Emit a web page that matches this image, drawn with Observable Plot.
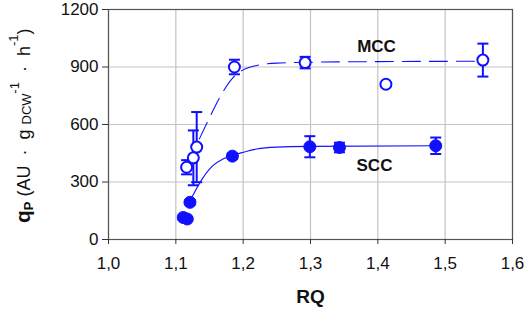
<!DOCTYPE html>
<html>
<head>
<meta charset="utf-8">
<script src="https://cdn.jsdelivr.net/npm/d3@7"></script>
<script src="https://cdn.jsdelivr.net/npm/@observablehq/plot@0.6"></script>
<style>
  html, body { margin: 0; padding: 0; background: #fff; }
</style>
</head>
<body>
<div id="chart"></div>
<script>
// ---- data ----
const xTicks = [1.0, 1.1, 1.2, 1.3, 1.4, 1.5, 1.6];
const yTicks = [0, 300, 600, 900, 1200];

// MCC (open circles)
const rqMCC  = [1.116, 1.126, 1.131, 1.187, 1.292, 1.412, 1.556];
const qMCC   = [377, 426, 482, 900, 923, 810, 936];
const errMCC = [37, 143, 183, 38, 30, 8, 86];

// SCC (filled circles)
const rqSCC  = [1.111, 1.117, 1.121, 1.184, 1.299, 1.343, 1.486];
const qSCC   = [115, 107, 194, 435, 484, 480, 489];
const errSCC = [10, 10, 12, 14, 55, 25, 43];

// fitted curves
const fitMCCx = [1.135, 1.15, 1.165, 1.185, 1.2, 1.22, 1.25, 1.3, 1.4, 1.55];
const fitMCCy = [525, 635, 740, 845, 885, 908, 920, 925, 928, 930];
const fitSCCx = [1.123, 1.14, 1.155, 1.17, 1.185, 1.2, 1.22, 1.25, 1.3, 1.49];
const fitSCCy = [215, 320, 385, 420, 440, 455, 472, 482, 486, 489];

const seriesLabels = [
  {text: "MCC", x: 1.398, y: 1005},
  {text: "SCC", x: 1.395, y: 386}
];

// ---- build tables ----
const mcc = rqMCC.map((x, i) => ({x, y: qMCC[i], e: errMCC[i]}));
const scc = rqSCC.map((x, i) => ({x, y: qSCC[i], e: errSCC[i]}));
const fitM = fitMCCx.map((x, i) => ({x, y: fitMCCy[i]}));
const fitS = fitSCCx.map((x, i) => ({x, y: fitSCCy[i]}));
const bars = [...mcc, ...scc];
const caps = bars.flatMap(d => [{x: d.x, y: d.y - d.e}, {x: d.x, y: d.y + d.e}]);

const blue = "#1010ff";
const capSymbol = {
  draw(ctx, size) {
    const w = 5.5;
    ctx.moveTo(-w, 0);
    ctx.lineTo(w, 0);
  }
};

const svg = Plot.plot({
  width: 526,
  height: 313,
  marginLeft: 108,
  marginRight: 14,
  marginTop: 9,
  marginBottom: 74,
  style: {fontFamily: "'Liberation Sans', Arial, sans-serif", fontSize: "17px", color: "#111", background: "#fff"},
  x: {domain: [1.0, 1.6]},
  y: {domain: [0, 1200]},
  marks: [
    Plot.gridX(xTicks, {stroke: "#c4c4c4", strokeOpacity: 1, strokeWidth: 1.2}),
    Plot.gridY(yTicks, {stroke: "#c4c4c4", strokeOpacity: 1, strokeWidth: 1.2}),
    Plot.frame({stroke: "#555", strokeWidth: 1.2}),
    Plot.axisX(xTicks, {tickSize: 5, tickPadding: 12, tickFormat: d => d.toFixed(1).replace(".", ","), label: null, stroke: "#333", fontSize: 17}),
    Plot.axisY(yTicks, {tickSize: 6, tickPadding: 4, tickFormat: d => String(d), label: null, stroke: "#333", fontSize: 17}),
    Plot.line(fitM, {x: "x", y: "y", curve: "monotone-x", stroke: blue, strokeWidth: 1.1, strokeDasharray: "18,9"}),
    Plot.line(fitS, {x: "x", y: "y", curve: "monotone-x", stroke: blue, strokeWidth: 1.1}),
    Plot.ruleX(bars, {x: "x", y1: d => d.y - d.e, y2: d => d.y + d.e, stroke: blue, strokeWidth: 2}),
    Plot.dot(caps, {x: "x", y: "y", symbol: capSymbol, r: 5, stroke: blue, strokeWidth: 2, fill: "none"}),
    Plot.dot(mcc, {x: "x", y: "y", r: 5.5, fill: "#fff", stroke: blue, strokeWidth: 2}),
    Plot.dot(scc, {x: "x", y: "y", r: 6, fill: blue, stroke: blue, strokeWidth: 1}),
    Plot.text(seriesLabels, {x: "x", y: "y", text: "text", fontWeight: "bold", fontSize: 17, fill: "#111"}),
    Plot.text(["RQ"], {frameAnchor: "bottom", dy: 63, text: d => d, fontWeight: "bold", fontSize: 19, fill: "#111"})
  ]
});

// y-axis title with sub/superscripts
const s = d3.select(svg);
const t = s.append("text")
  .attr("transform", "translate(30,223) rotate(-90)")
  .attr("text-anchor", "start")
  .attr("font-family", "'Liberation Sans', Arial, sans-serif")
  .attr("font-size", 18)
  .attr("fill", "#111")
  .attr("xml:space", "preserve")
  .style("white-space", "pre");
t.append("tspan").attr("font-weight", "bold").attr("font-size", 21).text("q");
t.append("tspan").attr("font-weight", "bold").attr("font-size", 13).attr("dy", 3).text("P");
t.append("tspan").attr("dy", -3).text(" (AU  \u00b7  g ");
t.append("tspan").attr("font-size", 13).attr("dy", 1).text("DCW");
t.append("tspan").attr("font-size", 13).attr("dy", -12).text("-1");
t.append("tspan").attr("dy", 11).text("  \u00b7  h");
t.append("tspan").attr("font-size", 13).attr("dy", -12).text("-1");
t.append("tspan").attr("dy", 12).text(")");

document.getElementById("chart").appendChild(svg);
</script>
</body>
</html>
